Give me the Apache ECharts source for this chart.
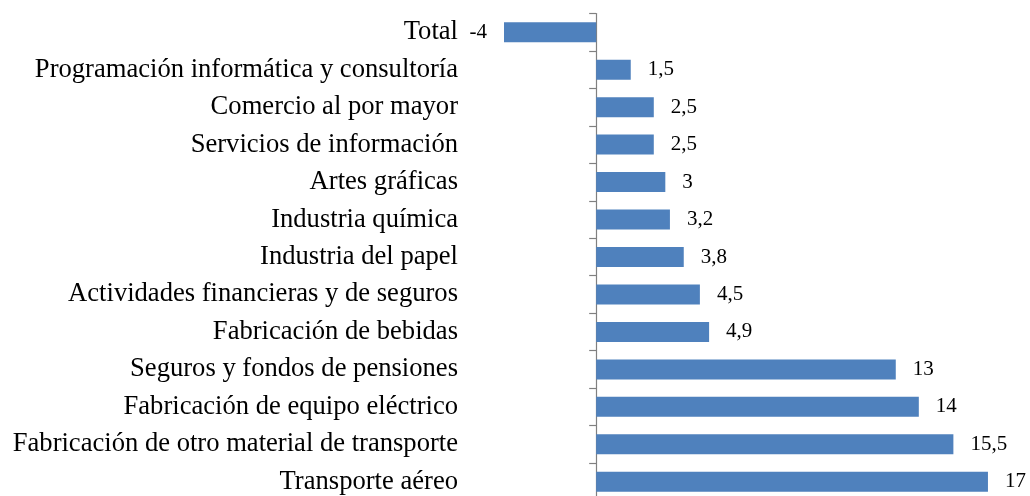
<!DOCTYPE html>
<html lang="es">
<head>
  <meta charset="UTF-8">
  <title>Variación por sector</title>
  <style>
    body {
      margin: 0;
      background: #fff;
      overflow: hidden;
    }

    #main {
      width: 1030px;
      height: 510px;
    }
  </style>
</head>
<body>
<div id="main"></div>
<script src="https://cdn.jsdelivr.net/npm/echarts@6/dist/echarts.min.js"></script>
<script>
  // categorías (de arriba a abajo)
  const categories = [
    'Total',
    'Programación informática y consultoría',
    'Comercio al por mayor',
    'Servicios de información',
    'Artes gráficas',
    'Industria química',
    'Industria del papel',
    'Actividades financieras y de seguros',
    'Fabricación de bebidas',
    'Seguros y fondos de pensiones',
    'Fabricación de equipo eléctrico',
    'Fabricación de otro material de transporte',
    'Transporte aéreo'
  ];
  const values = [-4, 1.5, 2.5, 2.5, 3, 3.2, 3.8, 4.5, 4.9, 13, 14, 15.5, 17];

  const chart = echarts.init(document.getElementById('main'));

  // formato con coma decimal
  const fmt = v => String(v).replace('.', ',');

  const option = {
    animation: false,
    grid: {
      left: 504,
      right: 19,
      top: 13.5,
      bottom: 9.5
    },
    xAxis: {
      type: 'value',
      min: -4,
      max: 18,
      show: false
    },
    yAxis: [
      {
        // solo etiquetas, a la izquierda del área
        type: 'category',
        data: categories,
        inverse: true,
        axisLine: { show: false, onZero: false },
        axisTick: { show: false },
        axisLabel: {
          margin: 46,
          interval: 0,
          color: '#000',
          fontFamily: 'Liberation Serif',
          fontSize: 26.6
        }
      },
      {
        // línea vertical en cero con marcas
        type: 'category',
        data: categories,
        inverse: true,
        position: 'left',
        axisLine: {
          show: true,
          onZero: true,
          lineStyle: { color: '#808080', width: 1.2 }
        },
        axisTick: {
          show: true,
          interval: 0,
          length: 7,
          lineStyle: { color: '#808080', width: 1.2 }
        },
        axisLabel: { show: false }
      }
    ],
    series: [{
      type: 'bar',
      yAxisIndex: 0,
      barWidth: 20,
      itemStyle: { color: '#4f81bd' },
      label: {
        show: true,
        position: 'right',
        distance: 17,
        color: '#000',
        fontFamily: 'Liberation Serif',
        fontSize: 21,
        formatter: p => fmt(p.value)
      },
      data: values.map(v => v < 0
        ? { value: v, label: { position: 'left' } }
        : v)
    }]
  };

  chart.setOption(option);
</script>
</body>
</html>
